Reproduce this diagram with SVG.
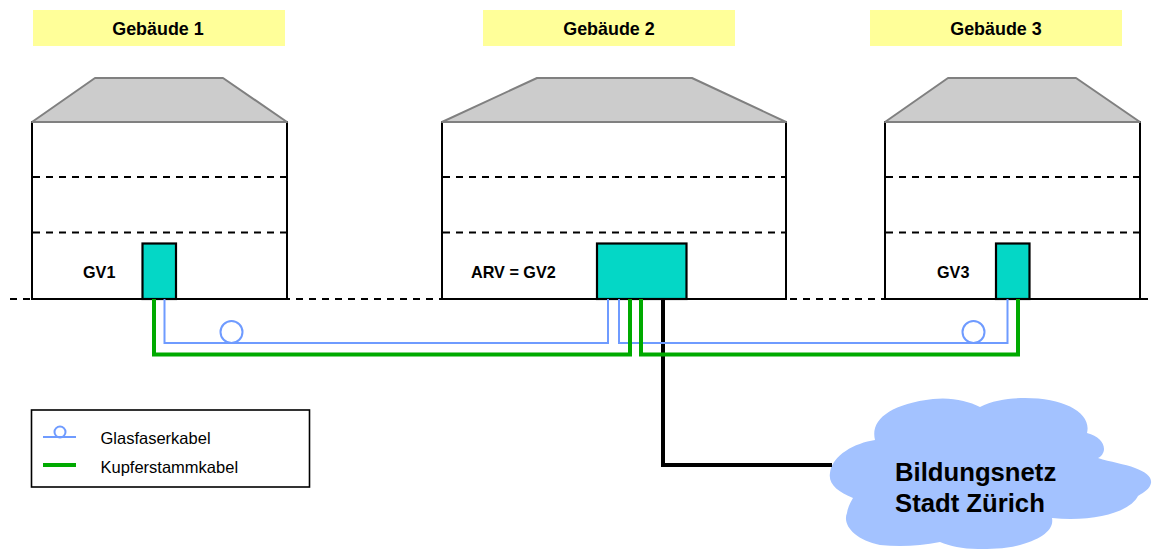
<svg xmlns="http://www.w3.org/2000/svg" width="1154" height="549" viewBox="0 0 1154 549">
<style>
text{font-family:"Liberation Sans",Arial,sans-serif;fill:#000}
.b{font-weight:bold;font-size:17.9px}
.s{font-weight:bold;font-size:16.2px}
.l{font-size:16.5px}
.c{font-weight:bold;font-size:25.7px}
.lab{fill:#ffff99}
.roof{fill:#cccccc;stroke:#808080;stroke-width:2;stroke-linejoin:round}
.wall{fill:#fff;stroke:#000;stroke-width:2}
.dash{fill:none;stroke:#000;stroke-width:2;stroke-dasharray:7 6}
.gv{fill:#04d7c6;stroke:#000;stroke-width:2.2}
.fib{fill:none;stroke:#6f9bff;stroke-width:2}
.cu{fill:none;stroke:#00aa00;stroke-width:4}
.blk{fill:none;stroke:#000;stroke-width:4}
</style>
<g id="ground"><path class="dash" d="M10 299H1154"/></g>
<g id="label-1"><rect class="lab" x="33" y="10" width="252" height="36"/><text class="b" x="158" y="35" text-anchor="middle">Gebäude 1</text></g>
<g id="label-2"><rect class="lab" x="483" y="10" width="252" height="36"/><text class="b" x="609" y="35" text-anchor="middle">Gebäude 2</text></g>
<g id="label-3"><rect class="lab" x="870" y="10" width="252" height="36"/><text class="b" x="996" y="35" text-anchor="middle">Gebäude 3</text></g>
<g id="building-1">
<rect class="wall" x="32" y="122" width="255" height="177"/>
<path class="roof" d="M32 122L95 78H223L287 122Z"/>
<path class="dash" d="M33 177H286M33 232.500H286"/>
<rect class="gv" x="142.500" y="243.500" width="33.500" height="55.500"/>
<text class="s" x="83" y="278">GV1</text>
</g>
<g id="building-2">
<rect class="wall" x="442" y="122" width="344" height="177"/>
<path class="roof" d="M442 122L537 78H692L786 122Z"/>
<path class="dash" d="M443 177H785M443 232.500H785"/>
<rect class="gv" x="597" y="243.500" width="89.500" height="55.500"/>
<text class="s" x="471" y="278">ARV = GV2</text>
</g>
<g id="building-3">
<rect class="wall" x="885" y="122" width="255" height="177"/>
<path class="roof" d="M885 122L948 78H1076L1140 122Z"/>
<path class="dash" d="M886 177H1139M886 232.500H1139"/>
<rect class="gv" x="996" y="243.500" width="33.500" height="55.500"/>
<text class="s" x="937" y="278">GV3</text>
</g>
<g id="cloud">
<path fill="#a3c2ff" d="M875 440C870 420 890 404 933 399C952 397 968 401 980 407C993 400 1010 398 1025 398C1065 398 1092 413 1087 433C1098 436 1104 442 1104 449C1104 453 1101 457 1098 458C1110 462 1125 464 1135 468C1146 472 1152 477 1151 483C1150 489 1144 492 1138 496C1130 512 1095 522 1052 518C1054 528 1045 538 1020 545C1005 549 990 549 978 549C962 549 950 546 940 542C920 546 900 547 880 545C855 540 842 525 847 513C848 506 851 502 853 498C838 492 828 484 830 473C832 455 855 443 875 440Z"/>
<text class="c" x="895" y="481">Bildungsnetz</text>
<text class="c" x="895" y="512">Stadt Zürich</text>
</g>
<g id="connectors">
<path class="blk" d="M663 299V465H832"/>
<path class="fib" d="M164.500 299V343H608V299"/>
<path class="fib" d="M619 299V343H1007.500V299"/>
<circle class="fib" cx="231.500" cy="332" r="11"/>
<circle class="fib" cx="973.500" cy="332" r="11"/>
<path class="cu" d="M154 299V354.500H630V299"/>
<path class="cu" d="M641 299V354.500H1018V299"/>
</g>
<g id="legend">
<rect x="31.500" y="410" width="278" height="77" fill="none" stroke="#000" stroke-width="1.6"/>
<path class="fib" d="M43 437H76"/>
<circle class="fib" cx="60" cy="432" r="5.500"/>
<path class="cu" d="M43 465H76"/>
<text class="l" x="100.500" y="444">Glasfaserkabel</text>
<text class="l" x="100.500" y="472.500">Kupferstammkabel</text>
</g>
</svg>
